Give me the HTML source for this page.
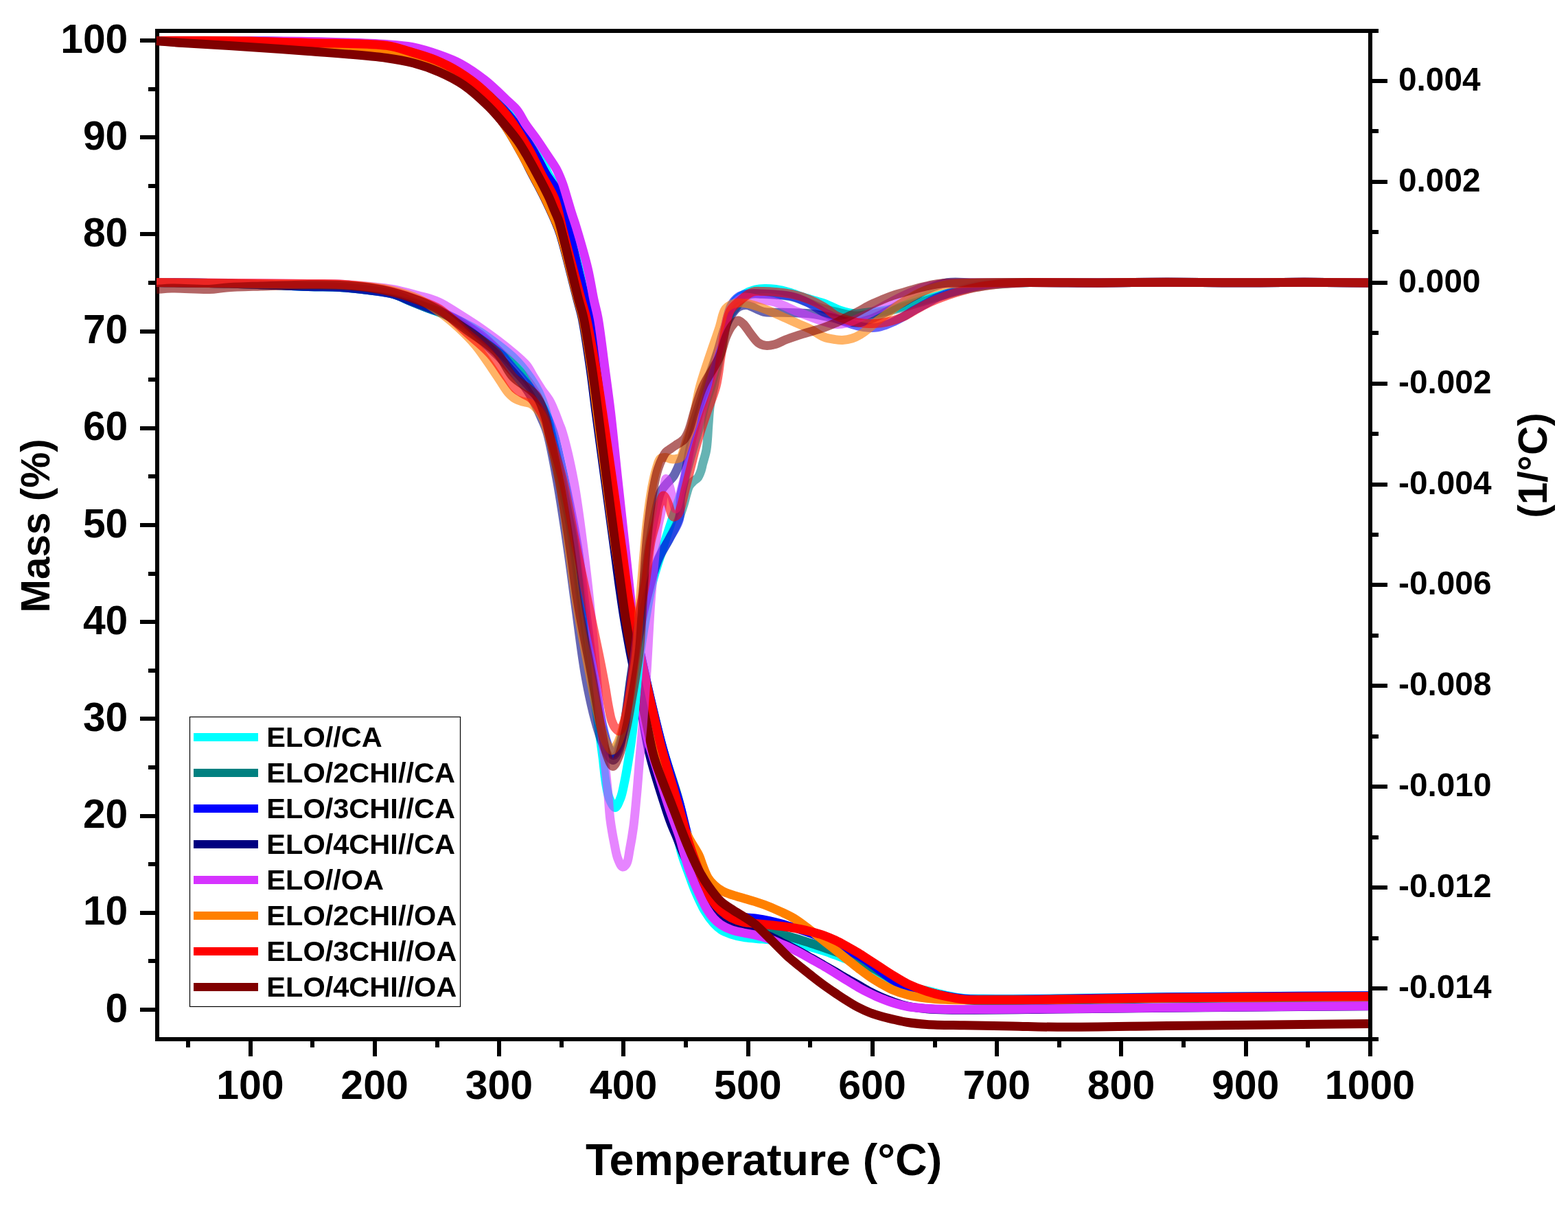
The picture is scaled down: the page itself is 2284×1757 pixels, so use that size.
<!DOCTYPE html>
<html lang="en"><head><meta charset="utf-8"><title>TGA / DTG curves</title>
<style>
html,body{margin:0;padding:0;background:#fff;}
body{width:2284px;height:1757px;overflow:hidden;}
svg{display:block;}
</style></head><body>
<svg xmlns="http://www.w3.org/2000/svg" width="2284" height="1757" viewBox="0 0 2284 1757">
<rect width="2284" height="1757" fill="#fff"/>
<g fill="#000" shape-rendering="crispEdges">
<rect x="226" y="42" width="6" height="1475"/>
<rect x="1993" y="42" width="6" height="1497"/>
<rect x="226" y="42" width="1782" height="6"/>
<rect x="226" y="1511" width="1782" height="6"/>
<rect x="204" y="1468" width="22" height="6"/>
<rect x="204" y="1327" width="22" height="6"/>
<rect x="204" y="1186" width="22" height="6"/>
<rect x="204" y="1044" width="22" height="6"/>
<rect x="204" y="903" width="22" height="6"/>
<rect x="204" y="762" width="22" height="6"/>
<rect x="204" y="621" width="22" height="6"/>
<rect x="204" y="480" width="22" height="6"/>
<rect x="204" y="338" width="22" height="6"/>
<rect x="204" y="197" width="22" height="6"/>
<rect x="204" y="56" width="22" height="6"/>
<rect x="216" y="1397" width="10" height="6"/>
<rect x="216" y="1256" width="10" height="6"/>
<rect x="216" y="1115" width="10" height="6"/>
<rect x="216" y="974" width="10" height="6"/>
<rect x="216" y="833" width="10" height="6"/>
<rect x="216" y="691" width="10" height="6"/>
<rect x="216" y="550" width="10" height="6"/>
<rect x="216" y="409" width="10" height="6"/>
<rect x="216" y="268" width="10" height="6"/>
<rect x="216" y="127" width="10" height="6"/>
<rect x="362" y="1517" width="6" height="22"/>
<rect x="543" y="1517" width="6" height="22"/>
<rect x="724" y="1517" width="6" height="22"/>
<rect x="905" y="1517" width="6" height="22"/>
<rect x="1087" y="1517" width="6" height="22"/>
<rect x="1268" y="1517" width="6" height="22"/>
<rect x="1449" y="1517" width="6" height="22"/>
<rect x="1630" y="1517" width="6" height="22"/>
<rect x="1812" y="1517" width="6" height="22"/>
<rect x="271" y="1517" width="6" height="9"/>
<rect x="452" y="1517" width="6" height="9"/>
<rect x="634" y="1517" width="6" height="9"/>
<rect x="815" y="1517" width="6" height="9"/>
<rect x="996" y="1517" width="6" height="9"/>
<rect x="1177" y="1517" width="6" height="9"/>
<rect x="1359" y="1517" width="6" height="9"/>
<rect x="1540" y="1517" width="6" height="9"/>
<rect x="1721" y="1517" width="6" height="9"/>
<rect x="1902" y="1517" width="6" height="9"/>
<rect x="1999" y="1437" width="22" height="6"/>
<rect x="1999" y="1290" width="22" height="6"/>
<rect x="1999" y="1143" width="22" height="6"/>
<rect x="1999" y="996" width="22" height="6"/>
<rect x="1999" y="849" width="22" height="6"/>
<rect x="1999" y="703" width="22" height="6"/>
<rect x="1999" y="556" width="22" height="6"/>
<rect x="1999" y="409" width="22" height="6"/>
<rect x="1999" y="262" width="22" height="6"/>
<rect x="1999" y="115" width="22" height="6"/>
<rect x="1999" y="1364" width="9" height="6"/>
<rect x="1999" y="1217" width="9" height="6"/>
<rect x="1999" y="1070" width="9" height="6"/>
<rect x="1999" y="923" width="9" height="6"/>
<rect x="1999" y="776" width="9" height="6"/>
<rect x="1999" y="629" width="9" height="6"/>
<rect x="1999" y="482" width="9" height="6"/>
<rect x="1999" y="335" width="9" height="6"/>
<rect x="1999" y="188" width="9" height="6"/>
</g>
<g font-family="'Liberation Sans', Arial, sans-serif" font-weight="bold" fill="#000">
<text x="186.3" y="1488.6" font-size="58.8" text-anchor="end">0</text>
<text x="186.3" y="1347.4" font-size="58.8" text-anchor="end">10</text>
<text x="186.3" y="1206.2" font-size="58.8" text-anchor="end">20</text>
<text x="186.3" y="1065.0" font-size="58.8" text-anchor="end">30</text>
<text x="186.3" y="923.8" font-size="58.8" text-anchor="end">40</text>
<text x="186.3" y="782.6" font-size="58.8" text-anchor="end">50</text>
<text x="186.3" y="641.4" font-size="58.8" text-anchor="end">60</text>
<text x="186.3" y="500.2" font-size="58.8" text-anchor="end">70</text>
<text x="186.3" y="359.0" font-size="58.8" text-anchor="end">80</text>
<text x="186.3" y="217.8" font-size="58.8" text-anchor="end">90</text>
<text x="186.3" y="76.6" font-size="58.8" text-anchor="end">100</text>
<text x="364.4" y="1601" font-size="59" text-anchor="middle">100</text>
<text x="545.6" y="1601" font-size="59" text-anchor="middle">200</text>
<text x="726.9" y="1601" font-size="59" text-anchor="middle">300</text>
<text x="908.1" y="1601" font-size="59" text-anchor="middle">400</text>
<text x="1089.3" y="1601" font-size="59" text-anchor="middle">500</text>
<text x="1270.5" y="1601" font-size="59" text-anchor="middle">600</text>
<text x="1451.8" y="1601" font-size="59" text-anchor="middle">700</text>
<text x="1633.0" y="1601" font-size="59" text-anchor="middle">800</text>
<text x="1814.2" y="1601" font-size="59" text-anchor="middle">900</text>
<text x="1995.5" y="1601" font-size="59" text-anchor="middle">1000</text>
<text x="2037" y="1454" font-size="47.8" text-anchor="start">-0.014</text>
<text x="2037" y="1307" font-size="47.8" text-anchor="start">-0.012</text>
<text x="2037" y="1160" font-size="47.8" text-anchor="start">-0.010</text>
<text x="2037" y="1013" font-size="47.8" text-anchor="start">-0.008</text>
<text x="2037" y="866" font-size="47.8" text-anchor="start">-0.006</text>
<text x="2037" y="720" font-size="47.8" text-anchor="start">-0.004</text>
<text x="2037" y="573" font-size="47.8" text-anchor="start">-0.002</text>
<text x="2037" y="426" font-size="47.8" text-anchor="start">0.000</text>
<text x="2037" y="279" font-size="47.8" text-anchor="start">0.002</text>
<text x="2037" y="132" font-size="47.8" text-anchor="start">0.004</text>
<text x="1112.6" y="1711.6" font-size="64.5" text-anchor="middle">Temperature (°C)</text>
<text transform="translate(72.3,766) rotate(-90)" font-size="58.5" text-anchor="middle">Mass (%)</text>
<text transform="translate(2253,678) rotate(-90)" font-size="58.5" text-anchor="middle">(1/°C)</text>
</g>
<g fill="none" stroke-width="13" stroke-linejoin="round" stroke-linecap="butt">
<path stroke="#00FFFF" d="M228.0,59.4C301.7,59.9 387.4,59.4 449.0,61.0C493.2,62.1 535.5,62.8 563.0,66.0C578.8,67.8 586.0,68.9 600.0,73.0C619.5,78.7 649.5,90.1 668.0,100.0C682.1,107.5 691.6,114.7 703.0,124.0C715.4,134.1 727.3,146.3 739.0,159.0C751.5,172.5 765.5,187.1 775.5,203.0C785.5,218.8 790.9,239.1 799.0,254.3C805.9,267.1 815.1,275.5 820.3,288.6C826.2,303.5 825.9,320.3 830.5,340.0C836.8,367.2 850.6,414.5 856.0,436.6C858.8,448.1 859.9,452.0 862.0,463.0C865.4,480.9 869.4,510.8 873.0,534.0C876.4,556.4 879.7,575.7 883.0,600.0C887.1,629.9 891.0,666.7 895.0,700.0C899.0,733.3 903.1,768.5 907.0,800.0C910.4,828.2 912.3,847.4 917.0,880.0C924.5,931.7 938.7,1025.8 950.0,1080.0C957.9,1117.7 967.1,1149.2 974.0,1175.0C978.8,1192.8 983.2,1206.9 986.8,1220.0C989.6,1230.1 991.2,1238.0 993.9,1246.8C996.6,1255.6 1000.0,1264.3 1003.2,1273.0C1006.4,1281.7 1009.3,1290.3 1013.0,1299.0C1017.0,1308.2 1021.6,1318.8 1026.5,1327.0C1030.7,1334.0 1035.6,1340.6 1040.0,1345.5C1043.4,1349.2 1046.1,1351.8 1050.0,1354.3C1054.3,1357.1 1059.7,1359.2 1065.0,1361.0C1070.6,1362.9 1077.1,1364.3 1083.0,1365.3C1088.7,1366.3 1094.1,1366.6 1100.0,1367.2C1106.6,1367.9 1114.1,1368.3 1120.7,1369.0C1126.9,1369.6 1133.3,1370.4 1138.6,1371.0C1142.8,1371.5 1146.0,1371.8 1150.0,1372.5C1154.7,1373.3 1159.9,1374.3 1165.0,1375.5C1170.5,1376.8 1176.3,1378.4 1182.0,1380.0C1187.9,1381.7 1194.1,1383.5 1200.0,1385.4C1205.8,1387.3 1211.4,1389.5 1217.0,1391.5C1222.4,1393.5 1227.6,1395.5 1233.0,1397.5C1238.6,1399.6 1244.3,1401.6 1250.0,1404.0C1255.8,1406.4 1261.9,1409.3 1267.5,1412.0C1272.9,1414.6 1277.7,1417.2 1283.0,1420.0C1288.6,1423.0 1293.8,1426.6 1300.0,1429.5C1306.8,1432.7 1314.4,1435.7 1322.4,1438.0C1331.0,1440.4 1340.8,1441.3 1350.0,1443.3C1359.2,1445.3 1368.2,1448.1 1377.4,1450.0C1386.5,1451.9 1395.7,1453.7 1404.8,1454.6C1413.9,1455.5 1419.9,1455.2 1432.0,1455.3C1456.1,1455.6 1500.5,1455.2 1540.0,1454.8C1588.1,1454.3 1638.7,1453.2 1700.0,1452.5C1783.0,1451.6 1895.3,1451.2 1993.0,1450.5"/>
<path stroke="#008080" d="M228.0,59.4C263.5,59.5 298.4,59.3 334.5,59.6C372.0,59.9 410.9,60.3 449.0,61.5C487.2,62.7 536.5,62.9 563.4,67.0C578.4,69.3 586.5,72.5 598.0,76.0C609.7,79.5 621.5,83.2 633.0,88.0C644.8,93.0 656.6,98.5 668.0,105.5C680.0,112.9 691.5,121.8 703.0,131.5C715.5,142.1 728.4,153.4 740.0,167.0C752.9,182.0 766.1,202.7 776.0,218.6C783.9,231.4 788.6,242.6 795.6,254.3C802.6,266.0 812.4,275.5 817.9,288.6C824.2,303.5 824.9,320.2 829.5,340.0C835.8,367.2 847.5,414.5 852.6,436.6C855.3,448.1 856.5,451.9 858.5,462.9C861.9,480.8 865.5,511.0 869.2,534.3C872.7,556.7 876.4,575.8 880.0,600.0C884.4,629.8 888.7,666.7 893.0,700.0C897.3,733.3 901.6,768.5 906.0,800.0C909.9,828.2 911.9,847.5 918.0,880.0C927.6,931.8 948.4,1025.8 962.5,1080.0C972.3,1117.8 984.1,1145.5 991.0,1175.2C996.9,1200.6 998.4,1229.2 1003.0,1246.8C1005.8,1257.4 1008.7,1263.5 1012.0,1271.8C1015.4,1280.2 1019.2,1288.9 1023.0,1296.8C1026.6,1304.2 1030.0,1311.4 1034.0,1318.0C1037.7,1324.1 1041.4,1330.4 1046.0,1335.0C1050.2,1339.2 1055.0,1342.5 1060.0,1345.0C1065.0,1347.5 1070.5,1348.8 1076.0,1350.0C1081.8,1351.2 1089.6,1351.4 1094.0,1352.0C1096.5,1352.4 1097.4,1352.6 1100.0,1353.0C1104.8,1353.8 1114.1,1355.0 1120.7,1356.5C1126.9,1357.9 1133.3,1360.0 1138.6,1361.5C1142.8,1362.7 1145.9,1363.5 1150.0,1364.6C1154.7,1365.9 1159.9,1367.4 1165.0,1369.0C1170.5,1370.7 1176.3,1372.6 1182.0,1374.5C1187.9,1376.4 1194.1,1378.5 1200.0,1380.5C1205.8,1382.5 1211.4,1384.5 1217.0,1386.5C1222.4,1388.5 1227.6,1390.5 1233.0,1392.5C1238.6,1394.6 1244.4,1396.5 1250.0,1399.0C1255.9,1401.6 1261.9,1404.9 1267.5,1408.0C1272.9,1410.9 1277.7,1413.8 1283.0,1417.0C1288.6,1420.3 1294.0,1423.6 1300.0,1427.6C1307.0,1432.4 1314.2,1439.8 1322.4,1444.0C1330.8,1448.3 1340.7,1451.7 1350.0,1453.0C1359.0,1454.3 1368.3,1451.4 1377.4,1452.0C1386.6,1452.6 1395.7,1455.5 1404.8,1456.5C1413.9,1457.5 1419.9,1457.5 1432.0,1457.8C1456.1,1458.3 1500.5,1457.7 1540.0,1457.3C1588.1,1456.8 1638.7,1455.5 1700.0,1454.8C1783.0,1453.9 1895.3,1453.5 1993.0,1452.8"/>
<path stroke="#0000FF" d="M228.0,59.4C263.5,59.5 298.4,59.3 334.5,59.6C372.0,59.9 410.9,60.3 449.0,61.5C487.2,62.7 536.5,62.9 563.4,67.0C578.4,69.3 586.5,72.5 598.0,76.0C609.7,79.5 621.5,83.2 633.0,88.0C644.8,93.0 656.6,98.5 668.0,105.5C680.0,112.9 691.5,121.8 703.0,131.5C715.5,142.1 728.4,153.4 740.0,167.0C752.9,182.0 766.1,202.7 776.0,218.6C783.9,231.4 788.6,242.6 795.6,254.3C802.6,266.0 812.4,275.5 817.9,288.6C824.2,303.5 824.9,320.2 829.5,340.0C835.8,367.2 847.5,414.5 852.6,436.6C855.3,448.1 856.5,451.9 858.5,462.9C861.9,480.8 865.5,511.0 869.2,534.3C872.7,556.7 876.4,575.8 880.0,600.0C884.4,629.8 888.7,666.7 893.0,700.0C897.3,733.3 901.6,768.5 906.0,800.0C909.9,828.2 911.9,847.5 918.0,880.0C927.6,931.8 948.4,1025.8 962.5,1080.0C972.3,1117.8 983.8,1149.3 991.0,1175.2C995.9,1192.9 998.4,1207.1 1002.5,1220.0C1005.7,1230.2 1009.0,1238.1 1012.5,1246.8C1015.9,1255.3 1019.6,1264.0 1023.0,1271.8C1026.0,1278.7 1029.0,1284.8 1032.0,1291.0C1034.8,1296.9 1037.0,1302.7 1040.5,1308.0C1044.1,1313.4 1048.8,1318.7 1053.5,1323.0C1057.9,1327.0 1062.1,1330.7 1067.5,1333.0C1073.6,1335.6 1082.6,1336.2 1088.6,1337.0C1093.0,1337.6 1095.7,1337.4 1100.0,1338.0C1105.9,1338.8 1114.1,1340.1 1120.7,1341.5C1126.9,1342.8 1133.3,1344.5 1138.6,1346.0C1142.8,1347.2 1145.9,1348.3 1150.0,1349.5C1154.7,1350.9 1159.9,1352.3 1165.0,1354.0C1170.5,1355.8 1176.3,1357.8 1182.0,1360.0C1187.9,1362.3 1194.1,1364.9 1200.0,1367.5C1205.8,1370.1 1211.4,1372.8 1217.0,1375.5C1222.4,1378.1 1227.6,1380.8 1233.0,1383.5C1238.6,1386.3 1244.4,1388.7 1250.0,1391.9C1255.9,1395.2 1261.9,1399.2 1267.5,1403.0C1272.9,1406.7 1277.7,1410.6 1283.0,1414.5C1288.5,1418.6 1293.8,1423.1 1300.0,1426.9C1306.8,1431.0 1314.4,1435.0 1322.4,1438.0C1331.0,1441.2 1340.8,1442.8 1350.0,1445.0C1359.1,1447.2 1368.2,1449.3 1377.4,1451.0C1386.5,1452.7 1395.7,1454.5 1404.8,1455.3C1413.9,1456.1 1419.9,1455.9 1432.0,1456.0C1456.1,1456.2 1500.5,1455.7 1540.0,1455.3C1588.1,1454.8 1638.7,1453.4 1700.0,1452.7C1783.0,1451.8 1895.3,1451.4 1993.0,1450.8"/>
<path stroke="#000080" d="M228.0,59.5C263.5,60.3 298.4,60.9 334.5,62.0C372.0,63.1 410.9,63.8 449.0,66.0C487.2,68.2 535.6,70.3 563.4,75.0C579.8,77.8 589.1,81.2 601.8,85.0C614.6,88.8 627.8,92.6 640.0,98.0C652.2,103.3 663.9,108.9 675.0,117.0C687.1,125.9 698.7,138.8 709.0,150.0C718.6,160.5 726.8,170.1 735.0,182.0C744.2,195.2 753.8,212.8 761.0,226.0C766.7,236.4 771.2,246.1 775.5,254.3C778.8,260.6 781.5,265.3 784.5,271.0C787.5,276.8 790.2,281.9 793.5,288.6C797.8,297.5 804.0,310.7 808.0,320.0C811.1,327.4 812.8,330.7 815.8,340.0C822.3,360.0 835.3,414.5 841.1,436.6C844.1,448.2 845.7,452.0 848.0,463.0C851.8,480.9 856.1,510.7 859.5,534.0C862.8,556.4 864.8,575.7 868.0,600.0C871.9,629.9 877.0,666.7 881.5,700.0C886.0,733.3 891.3,772.4 895.0,800.0C897.6,819.5 899.4,833.3 901.7,850.0C904.1,866.7 906.4,883.4 909.1,900.0C911.8,916.7 914.9,933.4 918.0,950.0C921.2,966.7 924.8,983.3 928.0,1000.0C931.2,1016.7 933.9,1033.3 937.0,1050.0C940.1,1066.7 942.0,1081.8 946.5,1100.0C952.0,1122.6 963.1,1156.7 969.0,1175.0C972.4,1185.6 974.6,1192.2 977.6,1200.0C980.3,1207.1 983.1,1212.9 986.0,1220.0C989.2,1227.9 992.3,1236.9 996.0,1245.0C999.6,1252.9 1003.7,1260.3 1008.0,1268.0C1012.4,1276.0 1017.3,1284.2 1022.0,1292.0C1026.6,1299.5 1031.2,1307.0 1036.0,1314.0C1040.6,1320.7 1044.8,1328.1 1050.0,1333.4C1054.6,1338.2 1059.5,1342.0 1065.0,1345.0C1070.5,1348.0 1077.1,1349.6 1083.0,1351.5C1088.7,1353.4 1094.1,1354.6 1100.0,1356.5C1106.6,1358.7 1114.1,1361.2 1120.7,1364.0C1127.0,1366.7 1133.3,1370.4 1138.6,1373.0C1142.8,1375.1 1146.0,1376.5 1150.0,1378.5C1154.7,1380.9 1159.9,1383.7 1165.0,1386.5C1170.5,1389.5 1176.3,1392.8 1182.0,1396.0C1187.9,1399.3 1194.1,1402.9 1200.0,1406.3C1205.7,1409.6 1211.4,1412.8 1217.0,1416.0C1222.4,1419.2 1227.6,1422.4 1233.0,1425.5C1238.6,1428.7 1244.3,1431.8 1250.0,1435.0C1255.8,1438.3 1261.8,1442.0 1267.5,1445.0C1272.8,1447.8 1277.7,1450.2 1283.0,1452.5C1288.5,1454.9 1293.9,1457.1 1300.0,1459.2C1306.9,1461.6 1314.5,1464.3 1322.4,1466.0C1331.0,1467.9 1340.8,1468.9 1350.0,1469.7C1359.1,1470.5 1364.4,1470.7 1377.4,1471.0C1408.9,1471.7 1486.0,1470.5 1540.0,1470.0C1593.5,1469.5 1638.7,1468.8 1700.0,1468.2C1783.0,1467.4 1895.3,1466.5 1993.0,1465.7"/>
<path stroke="#D633FF" d="M228.0,59.5C301.7,59.8 387.4,59.3 449.0,60.5C493.4,61.4 535.9,62.6 563.4,64.6C579.0,65.7 587.6,66.1 600.0,68.5C613.1,71.1 627.6,75.6 640.0,80.0C651.1,83.9 660.6,87.4 671.0,93.0C682.6,99.3 694.7,107.7 706.0,116.5C717.8,125.7 731.4,139.4 740.0,147.5C745.4,152.5 748.9,155.0 752.9,160.0C757.7,165.9 761.3,174.4 766.0,181.4C770.9,188.7 776.7,195.7 781.8,202.9C786.8,210.0 791.4,217.2 796.1,224.3C800.8,231.4 806.1,238.4 810.1,245.7C813.9,252.7 816.8,260.0 819.5,267.2C822.1,274.3 823.9,281.5 826.1,288.6C828.3,295.7 830.3,302.9 832.5,310.0C834.7,317.2 836.8,322.5 839.5,331.5C844.0,346.4 851.8,372.8 856.2,391.4C860.0,407.4 862.2,423.6 865.0,436.6C867.1,446.6 869.0,451.9 871.0,462.9C874.3,480.8 877.7,511.0 880.8,534.3C883.8,556.7 886.5,575.8 889.4,600.0C892.9,629.8 896.4,666.7 900.0,700.0C903.6,733.3 907.9,772.4 910.9,800.0C913.0,819.5 914.5,833.3 916.3,850.0C918.1,866.7 919.7,880.5 921.5,900.0C924.1,927.6 925.8,968.6 930.0,1000.0C933.8,1028.2 940.3,1062.3 944.5,1080.0C946.7,1089.0 947.8,1091.2 950.5,1100.0C955.7,1117.0 967.9,1156.7 974.0,1175.0C977.5,1185.6 980.1,1192.1 982.9,1200.0C985.4,1207.0 987.7,1212.8 990.0,1220.0C992.6,1228.3 994.8,1238.1 997.5,1247.0C1000.2,1255.8 1002.8,1264.5 1006.0,1273.0C1009.2,1281.5 1012.6,1289.6 1016.5,1298.0C1020.6,1306.9 1025.5,1317.7 1030.0,1325.0C1033.3,1330.4 1036.4,1334.7 1040.0,1338.5C1043.2,1341.9 1046.1,1344.6 1050.0,1347.1C1054.3,1350.0 1059.7,1352.5 1065.0,1354.5C1070.6,1356.6 1077.1,1357.7 1083.0,1359.0C1088.7,1360.2 1094.1,1360.7 1100.0,1362.1C1106.6,1363.6 1114.1,1365.7 1120.7,1368.0C1127.0,1370.2 1133.3,1373.3 1138.6,1375.5C1142.8,1377.3 1146.0,1378.4 1150.0,1380.3C1154.7,1382.5 1159.9,1385.3 1165.0,1388.0C1170.5,1391.0 1176.3,1394.3 1182.0,1397.5C1187.9,1400.8 1194.1,1404.2 1200.0,1407.6C1205.8,1411.0 1211.4,1414.6 1217.0,1418.0C1222.4,1421.4 1227.6,1424.7 1233.0,1428.0C1238.6,1431.4 1244.2,1435.0 1250.0,1438.3C1255.7,1441.5 1261.8,1444.7 1267.5,1447.5C1272.8,1450.1 1277.7,1452.3 1283.0,1454.5C1288.5,1456.7 1293.9,1458.8 1300.0,1460.7C1306.9,1462.8 1314.5,1465.1 1322.4,1466.5C1331.1,1468.1 1340.8,1468.6 1350.0,1469.3C1359.1,1470.0 1364.4,1470.2 1377.4,1470.5C1408.9,1471.1 1486.0,1470.2 1540.0,1469.8C1593.5,1469.4 1638.7,1468.6 1700.0,1468.0C1783.0,1467.2 1895.3,1466.3 1993.0,1465.5"/>
<path stroke="#FF8000" d="M228.0,59.5C263.5,60.3 298.4,60.9 334.5,62.0C372.0,63.1 410.9,63.8 449.0,66.0C487.2,68.2 535.6,70.3 563.4,75.0C579.8,77.8 589.1,81.2 601.8,85.0C614.6,88.8 627.8,92.6 640.0,98.0C652.2,103.3 663.9,108.9 675.0,117.0C687.1,125.9 698.7,138.8 709.0,150.0C718.6,160.5 726.8,170.1 735.0,182.0C744.2,195.2 753.6,212.9 761.0,226.0C766.8,236.4 771.6,246.1 776.0,254.3C779.4,260.6 782.0,265.3 785.0,271.0C788.0,276.8 790.7,281.9 794.0,288.6C798.3,297.5 804.5,310.7 808.5,320.0C811.7,327.4 813.4,330.7 816.4,340.0C823.0,360.0 835.9,414.5 841.8,436.6C844.9,448.2 846.6,452.0 849.0,463.0C852.9,480.9 857.5,510.7 861.0,534.0C864.4,556.4 866.5,575.7 869.7,600.0C873.7,629.9 878.5,666.7 883.0,700.0C887.5,733.3 892.0,768.6 896.8,800.0C901.1,828.2 905.1,851.9 910.0,880.0C915.4,911.5 921.7,946.7 928.0,980.0C934.3,1013.4 938.8,1047.4 948.0,1080.0C957.2,1112.4 972.6,1149.3 983.0,1175.0C990.3,1192.9 996.4,1207.1 1003.0,1220.0C1008.2,1230.3 1014.9,1239.2 1018.5,1247.0C1021.1,1252.6 1021.9,1256.9 1024.0,1262.0C1026.2,1267.5 1028.4,1274.1 1031.4,1278.9C1034.0,1283.1 1036.9,1286.4 1040.4,1289.6C1044.0,1293.0 1048.4,1296.2 1052.9,1298.6C1057.3,1301.0 1062.1,1302.2 1067.1,1303.9C1072.7,1305.8 1079.0,1307.5 1085.0,1309.3C1091.0,1311.1 1097.0,1312.7 1102.9,1314.6C1108.9,1316.5 1114.8,1318.5 1120.7,1320.9C1126.7,1323.3 1132.7,1326.1 1138.6,1328.9C1144.6,1331.7 1150.6,1334.4 1156.4,1337.9C1162.5,1341.6 1168.4,1346.1 1174.3,1350.5C1180.3,1355.0 1187.4,1360.8 1192.1,1364.5C1195.3,1367.0 1197.2,1368.5 1200.0,1370.7C1203.1,1373.2 1206.2,1375.5 1210.0,1378.5C1215.1,1382.5 1222.5,1388.5 1227.9,1392.8C1232.3,1396.3 1236.2,1399.4 1240.0,1402.5C1243.5,1405.3 1246.2,1407.5 1250.0,1410.5C1255.0,1414.3 1261.8,1419.6 1267.5,1423.5C1272.7,1427.0 1277.7,1430.0 1283.0,1433.0C1288.5,1436.1 1293.8,1439.4 1300.0,1442.0C1306.8,1444.9 1314.5,1447.5 1322.4,1449.5C1331.0,1451.7 1340.8,1453.2 1350.0,1454.3C1359.1,1455.4 1368.3,1455.9 1377.4,1456.3C1386.5,1456.7 1392.2,1456.7 1404.8,1456.8C1432.8,1457.0 1493.0,1456.6 1540.0,1456.2C1591.1,1455.7 1638.7,1454.6 1700.0,1454.0C1783.0,1453.1 1895.3,1452.7 1993.0,1452.0"/>
<path stroke="#FF0000" d="M228.0,59.4C263.5,59.4 298.4,58.9 334.5,59.4C372.0,59.9 410.8,61.2 449.0,62.4C487.1,63.6 536.4,62.5 563.4,66.4C578.5,68.6 586.6,72.1 598.2,75.5C610.0,79.0 621.9,82.2 633.4,87.0C645.2,91.9 656.7,97.5 668.0,104.5C680.0,111.9 691.8,120.5 703.0,130.5C715.1,141.3 727.0,153.5 737.9,167.3C749.9,182.5 762.1,202.8 771.1,218.6C778.4,231.4 782.8,242.4 788.9,254.3C795.1,266.2 802.8,276.8 808.0,290.0C813.8,305.0 815.9,320.6 821.0,340.0C828.1,367.0 840.6,414.5 846.6,436.6C849.8,448.1 851.4,451.9 854.0,462.9C858.2,480.8 863.4,511.0 867.4,534.3C871.2,556.6 873.9,575.8 877.5,600.0C882.0,629.8 887.2,666.7 892.0,700.0C896.7,733.3 901.6,768.5 906.0,800.0C910.0,828.2 911.5,847.5 917.4,880.0C926.7,931.8 953.3,1048.0 961.0,1080.0C963.5,1090.2 963.8,1091.2 966.3,1100.0C971.1,1117.1 983.2,1156.7 988.5,1175.0C991.6,1185.6 993.4,1191.9 995.6,1200.0C997.7,1207.6 999.2,1214.5 1001.5,1222.0C1004.0,1230.1 1007.0,1238.7 1010.0,1247.0C1013.0,1255.4 1016.3,1264.2 1019.5,1272.0C1022.3,1279.1 1025.1,1285.4 1028.0,1292.0C1030.9,1298.4 1033.3,1305.2 1037.0,1311.0C1040.6,1316.7 1045.2,1322.1 1050.0,1326.5C1054.6,1330.7 1059.6,1334.2 1065.0,1337.0C1070.6,1339.9 1077.0,1342.1 1083.0,1343.5C1088.7,1344.8 1094.1,1344.9 1100.0,1345.5C1106.6,1346.2 1114.1,1346.8 1120.7,1347.5C1126.9,1348.1 1133.3,1348.9 1138.6,1349.5C1142.8,1350.0 1145.9,1350.4 1150.0,1351.0C1154.7,1351.7 1159.9,1352.5 1165.0,1353.5C1170.5,1354.6 1176.3,1356.0 1182.0,1357.5C1187.9,1359.1 1194.1,1360.8 1200.0,1362.9C1205.8,1365.0 1211.5,1367.4 1217.0,1370.0C1222.5,1372.6 1227.6,1375.5 1233.0,1378.5C1238.6,1381.6 1244.3,1384.7 1250.0,1388.1C1255.8,1391.7 1261.8,1395.8 1267.5,1399.5C1272.8,1402.9 1277.7,1406.1 1283.0,1409.5C1288.5,1413.1 1293.9,1416.8 1300.0,1420.5C1306.9,1424.7 1314.4,1429.6 1322.4,1433.5C1331.0,1437.6 1340.7,1441.3 1350.0,1444.3C1359.1,1447.3 1368.2,1449.5 1377.4,1451.5C1386.5,1453.5 1395.6,1455.2 1404.8,1456.1C1413.9,1457.0 1420.1,1456.7 1432.3,1456.8C1456.4,1457.0 1500.6,1456.5 1540.0,1456.1C1588.1,1455.6 1638.7,1454.4 1700.0,1453.7C1783.0,1452.8 1895.3,1452.4 1993.0,1451.8"/>
<path stroke="#800000" d="M228.0,59.5C240.7,60.5 251.5,61.5 266.0,62.5C285.4,63.8 308.4,64.9 334.0,66.5C367.3,68.6 410.8,71.5 449.0,74.5C487.1,77.5 535.1,80.7 563.0,84.5C579.4,86.8 589.0,88.4 601.8,91.8C614.7,95.2 627.7,99.6 640.0,105.0C652.2,110.3 663.8,116.1 675.2,123.9C687.7,132.5 700.6,144.4 711.6,155.2C721.7,165.2 731.2,176.7 739.0,186.0C745.2,193.4 750.3,199.7 755.0,206.5C759.3,212.7 762.7,218.6 766.5,225.0C770.4,231.7 775.0,240.3 778.0,245.7C779.9,249.2 780.9,251.0 782.7,254.3C785.2,258.9 788.6,265.3 791.5,271.0C794.4,276.8 797.6,282.8 800.2,288.6C802.7,294.1 804.8,299.7 807.0,305.0C809.2,310.1 811.5,314.6 813.4,320.0C815.6,326.1 816.6,330.8 819.0,340.0C824.3,360.1 837.1,414.5 842.8,436.6C845.8,448.2 847.6,452.0 850.0,463.0C853.9,480.9 858.4,510.7 862.0,534.0C865.4,556.4 867.9,575.7 871.1,600.0C875.1,629.9 879.6,666.7 884.0,700.0C888.4,733.3 893.6,772.4 897.3,800.0C899.9,819.5 901.8,833.3 904.1,850.0C906.4,866.7 908.5,883.4 911.1,900.0C913.8,916.7 916.8,933.4 920.0,950.0C923.2,966.7 927.0,983.3 930.5,1000.0C934.0,1016.7 937.4,1033.3 941.0,1050.0C944.6,1066.7 947.9,1085.5 951.9,1100.0C955.0,1111.4 958.0,1119.0 962.0,1130.0C966.9,1143.5 974.6,1162.2 979.5,1175.0C983.2,1184.5 985.9,1191.9 989.0,1200.0C991.9,1207.6 994.5,1214.5 997.5,1222.0C1000.8,1230.1 1004.4,1238.9 1008.0,1247.0C1011.5,1254.9 1015.0,1262.6 1019.0,1270.0C1023.0,1277.3 1027.1,1284.0 1032.0,1291.0C1037.3,1298.5 1043.6,1307.3 1050.0,1313.3C1055.7,1318.6 1061.9,1322.0 1068.0,1326.0C1073.9,1329.9 1080.4,1333.4 1086.0,1337.0C1091.0,1340.3 1095.3,1342.8 1100.0,1346.7C1105.6,1351.3 1111.4,1357.5 1117.0,1363.0C1122.7,1368.6 1128.4,1374.5 1134.0,1380.0C1139.4,1385.4 1144.6,1390.9 1150.0,1395.7C1155.0,1400.2 1159.8,1403.8 1165.0,1408.0C1170.5,1412.4 1176.2,1417.0 1182.0,1421.5C1187.9,1426.1 1194.0,1430.9 1200.0,1435.2C1205.7,1439.3 1211.4,1443.2 1217.0,1447.0C1222.4,1450.6 1227.5,1454.1 1233.0,1457.5C1238.5,1461.0 1244.2,1464.6 1250.0,1467.6C1255.7,1470.6 1261.8,1473.3 1267.5,1475.5C1272.8,1477.5 1277.7,1479.0 1283.0,1480.5C1288.5,1482.1 1293.9,1483.4 1300.0,1484.8C1306.9,1486.4 1314.5,1488.3 1322.4,1489.5C1331.1,1490.9 1339.2,1491.7 1350.0,1492.4C1365.1,1493.4 1385.5,1493.4 1404.8,1493.8C1426.4,1494.2 1450.8,1494.5 1473.5,1494.9C1495.8,1495.3 1513.0,1496.2 1540.0,1496.3C1581.8,1496.5 1647.5,1495.1 1700.0,1494.5C1750.8,1494.0 1800.6,1493.5 1850.0,1493.0C1898.2,1492.5 1945.3,1491.9 1993.0,1491.4"/>
<path stroke="#00FFFF" d="M228.0,411.5C263.3,412.0 298.0,412.0 334.0,413.0C371.6,414.0 419.3,416.6 449.0,417.5C467.8,418.1 479.8,417.6 495.0,418.5C510.1,419.4 526.2,421.2 540.0,423.0C551.9,424.6 562.9,425.6 573.0,428.5C582.1,431.1 589.7,435.6 598.0,439.0C606.3,442.4 614.7,445.7 623.0,449.0C631.3,452.2 639.5,455.1 648.0,458.5C656.9,462.1 666.3,465.7 675.0,470.0C683.6,474.2 691.8,478.8 700.0,484.0C708.5,489.4 717.0,495.9 725.0,502.0C732.7,507.9 740.3,513.6 747.0,520.0C753.6,526.3 759.5,533.0 765.0,540.0C770.5,547.0 775.7,554.6 780.0,562.0C784.0,568.9 787.2,575.8 790.0,583.0C792.8,590.2 794.9,597.4 797.0,605.0C799.2,613.0 800.6,619.5 803.0,630.0C807.1,647.8 813.9,676.1 819.0,702.0C824.9,732.1 831.2,768.9 836.0,800.0C840.3,828.0 843.0,851.4 847.0,880.0C851.6,913.1 857.5,955.0 862.0,987.0C865.7,1013.1 869.1,1036.9 872.0,1058.0C874.3,1074.9 876.3,1089.5 878.1,1103.8C879.7,1116.4 880.5,1128.8 882.3,1139.5C883.8,1148.3 884.9,1156.7 887.6,1163.3C889.8,1168.6 893.3,1176.6 896.0,1176.5C898.7,1176.4 901.6,1168.5 903.7,1163.3C906.4,1156.7 907.8,1147.9 909.6,1139.5C911.6,1130.2 913.4,1119.3 915.0,1109.8C916.4,1101.2 917.6,1094.0 918.8,1085.0C920.3,1074.3 921.8,1062.7 923.1,1050.0C924.7,1034.8 925.9,1016.5 927.5,1000.0C929.1,983.7 930.4,967.8 932.5,951.4C934.7,934.5 937.8,917.0 940.7,900.0C943.6,883.2 946.0,866.6 950.0,850.0C954.1,833.2 960.1,815.7 965.0,800.0C969.4,785.9 973.5,773.4 978.0,760.0C982.5,746.3 988.0,731.7 992.0,718.6C995.5,706.9 998.1,695.8 1001.0,685.0C1003.7,674.9 1006.2,665.6 1009.0,655.7C1011.9,645.6 1015.1,635.6 1018.0,625.0C1021.1,613.7 1023.8,600.9 1027.0,590.0C1029.8,580.4 1033.0,573.1 1036.0,563.0C1039.7,550.4 1043.6,534.1 1047.0,520.0C1050.3,506.4 1052.2,493.2 1056.0,480.0C1059.9,466.6 1063.7,448.9 1070.0,440.0C1074.3,434.0 1079.8,431.1 1085.0,428.0C1089.8,425.2 1095.0,423.3 1100.0,422.0C1104.7,420.8 1109.2,420.5 1114.0,420.4C1119.2,420.3 1124.4,420.7 1130.0,421.5C1136.3,422.4 1143.4,424.1 1150.0,426.0C1156.7,427.9 1163.3,430.8 1170.0,433.0C1176.6,435.2 1184.5,437.4 1190.0,439.0C1193.9,440.1 1196.0,440.4 1200.0,441.8C1206.5,444.1 1216.8,449.9 1224.7,452.5C1231.7,454.8 1238.1,456.7 1245.0,457.1C1251.9,457.5 1259.4,455.2 1266.0,454.6C1271.8,454.0 1276.0,454.3 1282.4,453.4C1291.5,452.0 1304.5,448.9 1315.4,446.0C1326.5,443.1 1337.5,439.3 1348.4,436.1C1359.0,433.0 1369.6,429.7 1380.0,427.0C1390.1,424.4 1400.0,422.0 1410.0,420.0C1420.0,418.0 1430.0,416.3 1440.0,415.0C1450.0,413.8 1460.0,413.1 1470.0,412.5C1480.0,411.9 1487.1,411.7 1500.0,411.5C1523.6,411.2 1566.7,412.0 1600.0,412.0C1633.3,412.0 1666.7,411.2 1700.0,411.2C1733.3,411.2 1766.7,411.8 1800.0,411.8C1833.3,411.8 1867.3,411.3 1900.0,411.3C1931.6,411.3 1962.0,411.8 1993.0,412.0"/>
<path stroke="#008080" stroke-opacity="0.6" d="M228.0,411.5C263.3,412.0 298.0,412.0 334.0,413.0C371.6,414.0 419.3,416.6 449.0,417.5C467.8,418.1 479.8,417.6 495.0,418.5C510.1,419.4 526.2,421.2 540.0,423.0C551.9,424.6 562.9,425.7 573.0,428.5C582.1,431.0 589.7,435.2 598.0,438.5C606.3,441.7 614.7,444.9 623.0,448.0C631.3,451.1 639.6,453.3 648.0,457.0C657.0,460.9 666.4,465.6 675.0,471.0C683.7,476.5 691.7,483.5 700.0,490.0C708.4,496.5 717.0,503.2 725.0,510.0C732.7,516.5 740.2,523.2 747.0,530.0C753.5,536.5 759.6,543.4 765.0,550.0C769.9,556.0 774.2,561.7 778.0,568.0C781.8,574.3 785.0,581.1 788.0,588.0C791.0,595.1 793.6,602.8 796.0,610.0C798.3,616.8 799.8,621.2 802.0,630.0C806.2,646.5 811.5,676.2 817.0,702.0C823.4,732.2 832.5,768.9 838.0,800.0C842.9,827.9 845.0,851.4 849.0,880.0C853.6,913.1 859.1,955.0 864.0,987.0C868.0,1013.1 871.4,1039.5 876.0,1058.0C879.1,1070.3 882.4,1080.9 886.0,1088.0C888.2,1092.4 890.7,1098.0 893.0,1098.0C895.3,1098.0 897.8,1092.5 900.0,1088.0C903.5,1080.9 906.3,1070.2 909.0,1058.0C913.1,1039.5 915.5,1009.3 919.0,987.0C922.2,966.9 925.4,948.3 929.0,930.0C932.4,912.7 935.6,897.4 940.0,880.0C944.8,860.8 950.3,837.0 957.0,820.0C962.3,806.5 969.9,795.1 975.0,785.0C978.8,777.4 982.2,771.2 985.0,765.0C987.4,759.7 989.2,755.0 991.0,750.0C992.8,745.0 994.5,740.0 996.0,735.0C997.5,730.0 998.6,724.7 1000.0,720.0C1001.3,715.8 1002.1,711.3 1004.0,708.0C1005.6,705.2 1007.9,703.0 1010.0,701.0C1012.0,699.1 1014.6,698.2 1016.4,696.0C1018.4,693.4 1019.8,689.4 1021.0,686.0C1022.2,682.6 1022.6,679.6 1023.6,675.7C1025.0,670.4 1027.4,663.1 1028.6,657.0C1029.7,651.2 1030.0,645.9 1030.5,640.0C1031.1,633.6 1031.2,627.3 1031.8,620.0C1032.5,611.3 1032.9,600.9 1034.3,591.4C1035.7,581.9 1038.1,572.4 1040.0,562.9C1041.9,553.4 1043.8,543.8 1045.7,534.3C1047.6,524.8 1049.5,515.2 1051.4,505.7C1053.3,496.2 1054.7,485.6 1057.1,477.1C1059.1,470.0 1061.1,463.2 1064.0,458.0C1066.3,453.9 1069.2,451.7 1072.0,448.0C1075.2,443.8 1077.9,437.3 1082.0,434.0C1085.7,431.0 1090.4,429.4 1095.0,428.5C1099.7,427.5 1104.6,428.4 1110.0,428.5C1116.2,428.7 1123.1,428.9 1130.0,429.5C1137.6,430.2 1146.1,430.7 1153.7,432.5C1161.1,434.2 1167.6,437.2 1175.0,440.0C1183.0,443.0 1191.6,447.3 1200.0,450.0C1208.2,452.6 1216.9,454.3 1224.7,456.0C1231.8,457.6 1238.2,459.7 1245.0,460.0C1251.9,460.3 1259.4,458.8 1266.0,458.0C1271.8,457.3 1276.0,456.7 1282.4,455.5C1291.5,453.8 1304.5,450.9 1315.4,448.0C1326.5,445.1 1337.5,441.3 1348.4,438.0C1359.0,434.8 1369.6,431.4 1380.0,428.5C1390.1,425.7 1400.0,423.2 1410.0,421.0C1420.0,418.8 1430.0,416.8 1440.0,415.5C1450.0,414.2 1460.0,413.7 1470.0,413.0C1480.0,412.3 1487.1,411.8 1500.0,411.5C1523.6,411.0 1566.7,412.0 1600.0,412.0C1633.3,412.0 1666.7,411.2 1700.0,411.2C1733.3,411.2 1766.7,411.8 1800.0,411.8C1833.3,411.8 1867.3,411.3 1900.0,411.3C1931.6,411.3 1962.0,411.8 1993.0,412.0"/>
<path stroke="#0000FF" stroke-opacity="0.6" d="M228.0,411.5C263.3,412.0 298.0,412.0 334.0,413.0C371.6,414.0 419.3,416.6 449.0,417.5C467.8,418.1 479.8,417.6 495.0,418.5C510.1,419.4 526.2,421.2 540.0,423.0C551.9,424.6 562.9,425.8 573.0,428.5C582.0,430.9 589.7,434.9 598.0,438.0C606.3,441.1 614.7,443.8 623.0,447.0C631.4,450.2 639.6,453.2 648.0,457.0C656.9,461.1 666.3,465.9 675.0,471.0C683.6,476.0 691.9,481.1 700.0,487.3C708.6,493.9 717.2,501.9 725.0,510.0C732.9,518.2 740.3,528.6 747.0,536.3C752.4,542.5 757.2,547.6 762.0,553.0C766.5,558.1 771.0,562.7 775.0,568.0C779.0,573.4 782.5,578.9 786.0,585.0C789.9,591.8 793.7,599.5 797.0,607.0C800.3,614.5 802.9,620.1 806.0,630.0C811.4,647.2 817.4,676.1 823.0,702.0C829.5,732.1 836.9,768.9 841.9,800.0C846.4,827.9 848.3,851.4 852.0,880.0C856.3,913.1 861.2,955.0 866.0,987.0C869.9,1013.1 873.8,1039.1 878.0,1058.0C880.9,1070.9 883.7,1082.4 887.0,1090.0C889.0,1094.6 891.2,1100.4 893.5,1100.5C895.9,1100.6 898.7,1094.7 901.0,1090.0C904.6,1082.4 907.3,1070.9 910.0,1058.0C914.0,1039.1 916.5,1009.3 920.0,987.0C923.2,966.9 926.6,948.4 930.0,930.0C933.2,912.8 935.7,897.7 940.0,880.0C945.0,859.5 951.8,831.5 958.9,814.3C963.9,802.3 969.9,794.7 975.0,785.0C980.0,775.6 986.6,767.0 989.3,757.1C992.0,747.2 990.1,735.9 991.4,725.7C992.7,715.9 995.3,706.6 997.1,697.1C998.9,687.6 1000.3,678.1 1002.1,668.6C1003.9,659.1 1005.6,649.6 1007.9,640.0C1010.2,630.1 1013.2,620.0 1016.0,610.0C1018.9,600.0 1021.8,590.4 1025.0,580.0C1028.4,568.8 1032.3,556.7 1036.0,545.0C1039.7,533.3 1043.7,521.3 1047.0,510.0C1050.0,499.6 1052.1,490.4 1055.0,480.0C1058.1,468.8 1060.6,453.3 1065.0,445.0C1067.9,439.6 1070.9,435.8 1075.0,433.0C1079.2,430.2 1084.6,428.9 1090.0,428.0C1096.1,427.0 1103.3,427.8 1110.0,428.0C1116.7,428.2 1123.1,428.4 1130.0,429.0C1137.6,429.7 1146.1,430.1 1153.7,432.0C1161.1,433.8 1167.8,436.5 1175.0,440.0C1183.2,443.9 1192.4,450.9 1200.0,455.0C1206.0,458.2 1211.0,460.5 1216.5,463.0C1222.0,465.5 1227.4,468.0 1233.0,470.0C1238.4,471.9 1244.0,473.6 1249.5,474.8C1255.0,476.0 1261.4,477.0 1266.0,477.3C1269.2,477.5 1271.5,477.5 1274.2,477.3C1276.9,477.1 1279.2,476.8 1282.4,476.0C1287.0,474.8 1293.5,472.3 1298.9,469.9C1304.5,467.5 1310.0,464.6 1315.4,461.6C1321.0,458.5 1326.4,454.9 1331.9,451.7C1337.4,448.6 1342.9,445.7 1348.4,442.7C1353.9,439.7 1359.4,436.1 1364.9,433.6C1370.0,431.2 1374.6,429.6 1380.0,427.8C1386.2,425.7 1392.9,423.9 1400.0,422.0C1407.8,419.9 1416.6,417.5 1425.0,416.0C1433.3,414.5 1440.2,413.7 1450.0,413.0C1463.8,412.0 1480.5,411.7 1500.0,411.5C1527.6,411.2 1566.7,412.0 1600.0,412.0C1633.3,412.0 1666.7,411.2 1700.0,411.2C1733.3,411.2 1766.7,411.8 1800.0,411.8C1833.3,411.8 1867.3,411.3 1900.0,411.3C1931.6,411.3 1962.0,411.8 1993.0,412.0"/>
<path stroke="#000080" stroke-opacity="0.6" d="M228.0,411.5C263.3,412.0 298.0,412.0 334.0,413.0C371.6,414.0 419.3,416.6 449.0,417.5C467.8,418.1 479.8,417.6 495.0,418.5C510.1,419.4 526.2,421.2 540.0,423.0C551.9,424.6 562.9,425.6 573.0,428.5C582.1,431.1 589.7,435.6 598.0,439.0C606.3,442.4 614.6,445.8 623.0,449.0C631.3,452.2 639.7,454.1 648.0,458.0C657.0,462.3 666.4,467.9 675.0,474.0C683.8,480.2 691.7,487.7 700.0,495.0C708.4,502.4 717.1,510.1 725.0,518.0C732.7,525.8 740.4,534.5 747.0,542.0C752.6,548.4 757.6,554.2 762.0,560.0C765.8,565.1 769.0,569.9 772.0,575.0C774.9,579.9 777.3,584.6 780.0,590.0C783.0,596.1 786.2,603.3 789.0,610.0C791.8,616.6 794.3,621.1 797.0,630.0C801.9,646.4 807.1,676.1 811.8,702.0C817.2,732.1 822.6,769.0 827.1,800.0C831.2,828.0 834.0,851.4 838.0,880.0C842.6,913.1 847.3,955.1 853.2,987.0C858.0,1013.2 863.5,1038.3 869.3,1058.0C873.6,1072.5 878.1,1086.2 883.0,1095.0C886.1,1100.6 889.9,1107.6 892.9,1107.5C895.8,1107.4 898.7,1100.5 901.0,1095.0C904.7,1086.2 906.4,1072.4 909.0,1058.0C912.5,1038.2 915.9,1009.4 919.0,987.0C921.8,967.0 924.4,948.4 927.0,930.0C929.4,912.8 931.4,898.6 934.0,880.0C937.3,856.5 941.1,824.1 945.0,800.0C948.2,779.9 951.5,760.4 955.0,745.0C957.6,733.6 959.4,723.0 962.9,715.7C965.3,710.7 968.4,707.9 971.4,704.3C974.3,700.8 978.0,698.1 980.7,694.3C983.6,690.1 985.5,685.2 987.9,680.0C990.6,673.9 993.5,666.7 996.0,660.0C998.5,653.4 1000.6,647.4 1003.0,640.0C1005.9,631.0 1008.8,620.0 1012.0,610.0C1015.2,600.0 1018.5,590.4 1022.0,580.0C1025.8,568.8 1030.0,556.7 1034.0,545.0C1038.0,533.3 1042.4,521.3 1046.0,510.0C1049.3,499.6 1051.4,489.1 1055.0,480.0C1058.2,471.9 1062.0,463.9 1066.0,458.0C1069.1,453.4 1072.1,449.2 1076.0,447.0C1079.5,445.0 1083.1,444.1 1087.7,444.5C1094.5,445.1 1104.9,452.8 1112.4,454.4C1118.4,455.7 1123.1,455.0 1129.0,455.2C1135.6,455.4 1142.5,455.3 1150.0,455.5C1158.8,455.8 1168.7,455.7 1178.4,456.8C1188.7,458.0 1200.4,460.4 1210.0,462.5C1218.0,464.2 1225.0,466.7 1232.0,468.0C1238.3,469.1 1244.0,470.5 1250.0,470.0C1256.0,469.5 1261.8,467.3 1268.0,465.0C1275.1,462.4 1282.2,459.0 1290.0,455.0C1299.3,450.3 1310.0,443.5 1320.0,438.0C1330.0,432.5 1339.8,426.4 1350.0,422.0C1359.8,417.7 1369.1,413.5 1380.0,411.7C1392.2,409.7 1404.4,412.0 1420.0,412.0C1442.1,412.0 1471.8,411.5 1500.0,411.5C1531.5,411.5 1566.7,412.0 1600.0,412.0C1633.3,412.0 1666.7,411.2 1700.0,411.2C1733.3,411.2 1766.7,411.8 1800.0,411.8C1833.3,411.8 1867.3,411.3 1900.0,411.3C1931.6,411.3 1962.0,411.8 1993.0,412.0"/>
<path stroke="#D633FF" stroke-opacity="0.6" d="M228.0,411.5C263.3,411.8 297.9,412.2 334.0,412.5C371.6,412.8 419.3,413.2 449.0,413.5C467.8,413.7 479.8,413.3 495.0,414.0C510.1,414.7 526.3,416.1 540.0,417.5C551.6,418.7 561.0,419.5 572.0,421.5C583.9,423.7 599.2,428.0 609.0,430.5C615.4,432.2 619.8,433.1 625.0,434.8C630.1,436.5 635.6,438.5 640.0,440.5C643.7,442.2 646.0,443.6 650.0,445.9C656.5,449.7 666.7,456.2 675.0,461.5C683.4,466.8 691.7,472.1 700.0,477.8C708.4,483.6 717.0,489.9 725.0,496.0C732.6,501.8 741.0,508.5 747.0,513.5C751.3,517.1 754.5,519.8 758.0,523.0C761.3,526.1 764.4,528.6 767.4,532.5C771.2,537.3 774.5,544.3 778.1,550.2C781.8,556.2 785.6,562.4 789.4,568.1C793.1,573.6 797.6,578.5 800.7,584.0C803.7,589.2 805.7,594.5 808.0,600.0C810.3,605.5 812.5,611.7 814.5,617.0C816.2,621.6 817.5,623.8 819.3,630.0C823.6,644.2 831.1,676.0 836.0,702.0C841.6,732.0 846.1,769.0 850.1,800.0C853.7,828.0 856.6,854.2 859.3,880.0C861.8,904.1 863.9,926.7 866.0,950.0C868.1,973.3 869.8,996.7 872.0,1020.0C874.2,1043.3 876.7,1066.9 879.0,1090.0C881.3,1112.7 884.0,1138.5 885.8,1157.4C887.1,1171.2 887.3,1181.2 888.8,1193.1C890.3,1205.0 892.7,1218.3 894.8,1228.8C896.5,1237.2 897.6,1245.3 900.1,1251.4C902.0,1256.1 904.4,1262.5 906.9,1263.0C908.7,1263.3 911.1,1261.0 912.6,1258.6C915.3,1254.3 915.9,1244.9 917.4,1237.0C919.3,1227.4 921.1,1216.7 922.7,1205.0C924.6,1190.7 926.0,1173.7 927.5,1157.4C929.1,1140.1 930.4,1120.9 931.9,1103.8C933.3,1088.1 934.6,1075.4 936.0,1058.6C937.8,1037.5 939.6,1013.3 941.4,987.0C943.6,954.9 945.5,910.5 947.7,880.0C949.4,857.1 951.2,839.1 953.0,820.0C954.6,802.6 955.9,783.4 958.0,770.0C959.4,760.8 961.6,754.8 962.9,747.0C964.2,739.1 964.8,731.1 966.0,723.0C967.2,714.6 968.0,697.8 970.0,697.5C971.4,697.3 973.5,703.9 975.0,708.0C977.0,713.5 978.3,722.0 980.0,728.0C981.4,732.9 982.8,741.4 984.3,741.4C985.8,741.4 987.7,732.5 989.0,728.0C990.3,723.7 990.7,720.2 992.0,715.0C994.0,707.0 997.3,695.0 1000.0,685.0C1002.7,675.0 1005.3,665.0 1008.0,655.0C1010.7,645.0 1013.3,635.4 1016.0,625.0C1018.9,613.8 1022.0,600.9 1025.0,590.0C1027.7,580.4 1030.1,573.1 1033.0,563.0C1036.6,550.3 1041.3,534.1 1045.0,520.0C1048.6,506.5 1051.9,491.8 1055.0,480.0C1057.5,470.7 1058.8,462.1 1062.0,455.0C1064.7,449.1 1067.9,443.7 1072.0,440.0C1075.7,436.6 1080.1,433.8 1085.0,433.0C1090.6,432.1 1097.4,435.1 1104.2,436.2C1111.9,437.5 1120.3,437.8 1129.0,440.3C1139.4,443.3 1151.0,449.9 1162.0,454.3C1173.0,458.7 1185.1,463.6 1195.0,466.7C1202.9,469.2 1209.8,471.8 1216.5,472.3C1222.3,472.8 1227.6,472.0 1233.0,470.7C1238.6,469.3 1244.0,466.4 1249.5,464.1C1255.0,461.8 1260.5,459.3 1266.0,456.7C1271.5,454.1 1276.9,451.3 1282.4,448.4C1287.9,445.5 1293.4,442.3 1298.9,439.4C1304.4,436.5 1309.9,433.7 1315.4,431.1C1320.9,428.5 1326.4,425.9 1331.9,423.7C1337.4,421.5 1342.8,419.4 1348.4,417.9C1353.8,416.4 1359.5,415.4 1364.9,414.6C1370.0,413.8 1373.8,413.4 1380.0,413.0C1390.1,412.3 1404.4,412.2 1420.0,412.0C1442.1,411.7 1471.8,411.5 1500.0,411.5C1531.5,411.5 1566.7,412.0 1600.0,412.0C1633.3,412.0 1666.7,411.2 1700.0,411.2C1733.3,411.2 1766.7,411.8 1800.0,411.8C1833.3,411.8 1867.3,411.3 1900.0,411.3C1931.6,411.3 1962.0,411.8 1993.0,412.0"/>
<path stroke="#FF8000" stroke-opacity="0.6" d="M228.0,411.5C263.3,412.0 297.9,412.6 334.0,413.0C371.6,413.4 419.3,413.7 449.0,414.0C467.8,414.2 479.8,413.8 495.0,414.5C510.1,415.2 526.2,416.3 540.0,418.0C551.9,419.4 561.9,420.8 573.0,423.5C584.8,426.4 597.4,429.5 609.0,435.0C621.1,440.7 633.7,449.9 644.0,457.5C653.0,464.1 660.1,470.3 667.9,477.5C676.0,485.1 684.0,492.8 691.7,502.0C700.4,512.3 710.1,527.2 716.8,537.0C721.6,543.9 724.8,549.1 728.7,555.0C732.6,560.8 736.2,567.4 740.2,572.0C743.5,575.7 746.8,578.8 750.5,581.0C753.8,583.0 757.3,583.8 761.0,585.0C765.0,586.3 769.8,586.0 773.9,588.5C779.2,591.7 784.8,598.6 788.7,605.0C792.8,611.7 794.4,618.2 797.5,628.2C802.8,645.4 810.0,674.0 815.0,700.0C820.8,730.4 824.6,768.5 829.0,800.0C832.9,828.2 835.4,851.5 840.0,880.0C845.4,913.1 853.9,956.1 860.0,987.0C864.7,1010.8 868.5,1032.6 873.0,1050.0C876.2,1062.6 879.0,1074.3 883.0,1082.0C885.6,1087.0 888.7,1093.2 891.5,1093.2C894.3,1093.2 897.5,1086.7 900.0,1082.0C903.3,1075.7 905.5,1066.8 908.0,1058.0C910.9,1047.5 913.4,1036.8 916.0,1023.0C919.7,1003.3 924.3,975.0 927.0,951.0C929.6,927.3 930.2,903.2 932.0,880.0C933.7,857.6 935.6,834.9 937.4,814.0C939.1,795.1 940.4,777.5 942.5,760.0C944.5,743.2 946.9,725.0 949.5,711.0C951.5,700.3 953.5,690.8 956.0,683.0C957.8,677.1 959.0,670.5 962.0,668.0C964.1,666.2 967.4,666.3 970.0,666.4C972.5,666.5 974.7,668.2 977.1,668.6C979.5,669.0 981.9,669.0 984.3,668.6C986.7,668.2 989.5,668.1 991.4,666.4C993.8,664.2 994.5,659.1 996.0,655.0C997.7,650.4 998.9,645.3 1000.7,640.0C1002.8,633.8 1005.3,628.5 1007.7,620.0C1011.6,606.0 1014.0,583.8 1019.6,563.0C1026.6,537.1 1041.2,497.6 1048.0,477.0C1051.8,465.4 1052.0,455.9 1056.9,449.9C1060.7,445.3 1066.2,442.9 1071.6,441.6C1077.2,440.3 1083.9,441.5 1089.9,442.6C1096.1,443.7 1102.1,446.0 1108.2,448.1C1114.3,450.2 1120.4,452.8 1126.5,455.4C1132.6,458.0 1138.7,460.9 1144.8,463.6C1150.9,466.4 1157.1,469.1 1163.2,471.9C1169.3,474.6 1175.5,477.0 1181.5,480.1C1187.7,483.3 1193.8,488.5 1200.0,490.9C1205.5,493.1 1211.6,493.9 1216.5,494.6C1220.4,495.2 1223.4,495.6 1227.2,495.4C1231.6,495.2 1236.8,494.4 1241.2,493.0C1245.6,491.6 1249.6,489.6 1253.6,487.2C1257.9,484.7 1261.9,481.3 1266.0,478.1C1270.2,474.8 1274.1,470.7 1278.3,467.4C1282.4,464.2 1286.3,461.6 1290.7,458.3C1295.8,454.4 1301.6,449.4 1307.2,445.5C1312.6,441.7 1318.2,438.4 1323.7,435.2C1329.1,432.0 1334.5,428.7 1340.1,426.2C1345.5,423.8 1350.6,422.3 1356.6,420.5C1363.7,418.4 1371.1,416.0 1380.0,414.6C1391.5,412.8 1404.4,412.8 1420.0,412.3C1442.1,411.6 1471.8,411.6 1500.0,411.5C1531.5,411.4 1566.7,412.0 1600.0,412.0C1633.3,412.0 1666.7,411.2 1700.0,411.2C1733.3,411.2 1766.7,411.8 1800.0,411.8C1833.3,411.8 1867.3,411.3 1900.0,411.3C1931.6,411.3 1962.0,411.8 1993.0,412.0"/>
<path stroke="#FF0000" stroke-opacity="0.6" d="M228.0,411.5C263.3,411.8 297.9,412.2 334.0,412.5C371.6,412.8 419.3,413.2 449.0,413.5C467.8,413.7 479.8,413.1 495.0,414.0C510.1,414.9 526.2,416.9 540.0,419.0C551.9,420.8 561.8,422.6 573.0,425.5C584.8,428.5 597.5,432.8 609.0,437.0C619.8,441.0 629.5,443.5 640.0,450.0C653.1,458.2 667.3,473.6 680.0,485.0C691.9,495.6 704.1,504.9 714.0,516.0C723.5,526.6 731.7,540.8 738.5,550.0C743.2,556.4 746.2,561.9 750.5,566.0C754.0,569.3 757.7,571.2 761.5,573.5C765.2,575.8 769.5,577.1 773.0,580.0C776.8,583.1 779.8,587.3 783.0,592.0C786.9,597.7 791.1,605.2 794.0,612.0C796.7,618.5 797.4,623.4 800.0,632.0C804.7,647.9 813.8,675.0 820.0,700.0C827.4,730.0 833.5,768.5 840.0,800.0C845.8,828.2 851.5,854.1 857.0,880.0C862.2,904.5 867.7,929.9 872.0,951.4C875.6,969.1 878.8,985.7 881.4,1000.0C883.4,1011.2 884.7,1021.0 886.5,1030.0C888.0,1037.4 889.0,1044.4 891.0,1050.0C892.5,1054.3 894.4,1058.4 896.5,1061.0C898.1,1063.0 900.0,1065.5 901.7,1065.2C903.9,1064.8 906.2,1059.3 908.0,1055.0C910.6,1048.7 912.2,1039.4 914.0,1030.0C916.3,1018.3 918.1,1004.1 920.0,990.0C922.1,974.3 924.0,956.7 926.0,940.0C928.0,923.3 929.5,905.7 932.0,890.0C934.3,875.9 937.5,864.7 940.0,850.0C943.0,832.1 944.8,806.5 948.0,790.0C950.3,778.2 953.6,769.4 955.7,760.0C957.5,751.7 957.9,743.2 960.0,736.4C961.7,730.9 964.1,722.2 966.4,722.1C968.5,722.0 970.9,728.7 973.0,733.0C975.7,738.5 977.4,751.6 980.7,752.9C982.6,753.7 985.3,751.7 987.0,750.0C989.1,747.8 989.9,744.3 991.4,740.0C993.8,733.0 996.2,720.9 998.6,711.4C1001.0,701.9 1003.3,692.4 1005.7,682.9C1008.1,673.4 1010.4,663.4 1012.9,654.3C1015.2,645.8 1017.3,638.5 1020.0,630.0C1023.0,620.5 1026.4,610.5 1030.0,600.0C1034.0,588.3 1039.7,575.9 1043.0,563.0C1046.5,549.4 1047.7,534.3 1050.0,520.0C1052.3,505.7 1054.3,489.3 1057.0,477.0C1059.1,467.5 1060.2,458.5 1064.0,452.0C1067.1,446.6 1071.4,443.6 1076.2,439.5C1081.8,434.7 1089.4,427.7 1096.0,425.4C1101.4,423.5 1106.9,424.6 1112.4,424.6C1117.9,424.6 1122.9,424.8 1129.0,425.4C1136.4,426.1 1145.5,426.9 1153.7,428.7C1162.0,430.5 1170.6,433.1 1178.4,436.2C1186.0,439.2 1193.4,443.0 1200.0,447.0C1206.0,450.7 1210.8,455.9 1216.5,459.1C1221.8,462.1 1227.4,463.9 1233.0,465.7C1238.4,467.5 1244.0,468.9 1249.5,469.9C1255.0,470.9 1260.5,471.4 1266.0,471.5C1271.5,471.6 1277.0,471.4 1282.4,470.7C1287.9,470.0 1293.5,468.9 1298.9,467.4C1304.5,465.9 1310.0,464.0 1315.4,461.6C1321.0,459.1 1326.4,455.5 1331.9,452.5C1337.4,449.5 1342.8,446.3 1348.4,443.5C1353.8,440.8 1359.5,438.3 1364.9,436.1C1370.0,434.0 1374.6,432.2 1380.0,430.3C1386.2,428.1 1393.3,425.9 1400.0,424.0C1406.6,422.1 1412.6,420.5 1420.0,419.0C1429.0,417.2 1440.0,415.6 1450.0,414.5C1460.0,413.4 1471.0,413.0 1480.0,412.5C1487.3,412.1 1490.8,411.7 1500.0,411.5C1520.6,411.0 1566.7,412.0 1600.0,412.0C1633.3,412.0 1666.7,411.2 1700.0,411.2C1733.3,411.2 1766.7,411.8 1800.0,411.8C1833.3,411.8 1867.3,411.3 1900.0,411.3C1931.6,411.3 1962.0,411.8 1993.0,412.0"/>
<path stroke="#800000" stroke-opacity="0.6" d="M228.0,421.5C235.3,421.0 241.0,420.2 250.0,420.0C264.2,419.7 290.2,422.0 305.0,421.5C315.0,421.1 320.2,419.7 330.0,419.0C343.8,418.0 361.9,417.6 380.0,417.0C401.4,416.3 429.2,415.2 450.0,415.0C466.6,414.9 480.0,414.8 495.0,415.5C510.0,416.2 526.2,417.5 540.0,419.5C551.9,421.2 561.8,423.1 573.0,426.0C584.8,429.0 597.6,433.0 609.0,437.5C619.9,441.8 629.3,445.7 640.0,452.0C652.8,459.6 666.4,471.0 680.0,481.0C694.2,491.4 711.8,501.2 723.3,513.3C733.6,524.1 738.3,539.7 747.1,549.0C754.5,556.8 764.6,561.3 771.0,566.9C775.8,571.1 779.4,573.5 782.9,578.8C787.7,586.1 792.0,599.4 794.8,608.6C797.1,616.2 797.5,620.8 799.5,630.0C803.2,646.9 810.1,676.1 815.0,702.0C820.7,732.1 826.1,769.0 830.8,800.0C835.0,828.0 837.3,851.5 842.0,880.0C847.5,913.1 856.6,955.0 862.5,987.0C867.3,1013.1 871.0,1037.5 875.0,1058.0C878.1,1073.9 880.1,1089.4 884.0,1100.0C886.6,1107.0 889.9,1116.4 892.9,1116.4C895.9,1116.4 899.2,1106.9 902.0,1100.0C906.2,1089.4 910.0,1071.4 913.0,1058.0C915.7,1045.9 917.1,1036.8 919.5,1023.0C922.9,1003.3 928.2,975.0 931.0,951.0C933.7,927.3 934.5,903.2 936.0,880.0C937.5,857.6 938.4,834.9 940.0,814.0C941.4,795.1 942.9,777.5 945.0,760.0C947.0,743.2 949.4,725.0 952.0,711.0C954.0,700.3 956.0,691.0 958.5,683.0C960.5,676.8 962.8,671.4 965.0,667.0C966.7,663.7 967.9,660.9 970.0,658.6C972.0,656.5 974.7,655.3 977.1,653.6C979.5,651.9 982.0,650.1 984.3,648.6C986.3,647.3 988.1,646.4 990.0,645.0C992.1,643.5 994.5,642.3 996.4,640.0C998.9,637.0 1000.9,633.0 1003.0,628.0C1006.2,620.4 1008.7,608.4 1012.0,598.0C1015.6,586.7 1018.6,575.0 1024.0,563.0C1030.2,549.1 1042.1,533.3 1048.0,520.0C1052.7,509.3 1054.5,498.2 1058.0,490.0C1060.6,484.0 1062.8,479.0 1066.0,475.0C1068.7,471.6 1072.0,467.2 1075.0,467.0C1077.6,466.8 1080.0,469.5 1082.6,471.9C1086.2,475.3 1089.9,481.8 1093.6,486.5C1097.2,491.0 1100.5,496.5 1104.5,499.3C1107.9,501.7 1111.5,503.0 1115.5,503.4C1120.0,503.9 1125.4,502.6 1130.2,501.2C1135.2,499.8 1139.6,496.8 1144.8,494.8C1150.5,492.5 1157.1,490.4 1163.2,488.4C1169.3,486.4 1175.4,484.7 1181.5,482.9C1187.6,481.1 1193.9,479.5 1199.8,477.4C1205.5,475.4 1211.0,473.2 1216.5,470.7C1222.1,468.2 1227.5,465.2 1233.0,462.4C1238.5,459.7 1244.0,457.1 1249.5,454.2C1255.0,451.3 1260.5,447.9 1266.0,445.1C1271.4,442.4 1276.9,440.0 1282.4,437.7C1287.9,435.4 1293.4,433.0 1298.9,431.1C1304.4,429.2 1309.9,427.8 1315.4,426.2C1320.9,424.5 1326.4,422.7 1331.9,421.2C1337.4,419.7 1342.9,418.3 1348.4,417.1C1353.9,415.9 1359.5,414.6 1364.9,413.8C1370.0,413.0 1373.8,412.5 1380.0,412.2C1390.1,411.6 1404.4,412.1 1420.0,412.0C1442.1,411.9 1471.8,411.5 1500.0,411.5C1531.5,411.5 1566.7,412.0 1600.0,412.0C1633.3,412.0 1666.7,411.2 1700.0,411.2C1733.3,411.2 1766.7,411.8 1800.0,411.8C1833.3,411.8 1867.3,411.3 1900.0,411.3C1931.6,411.3 1962.0,411.8 1993.0,412.0"/>
</g>
<rect x="276.5" y="1044.5" width="394" height="422" fill="#fff" stroke="#000" stroke-width="1.2"/>
<g font-family="'Liberation Sans', Arial, sans-serif" font-weight="bold" font-size="41.55" fill="#000">
<rect x="282" y="1068" width="94" height="12" fill="#00FFFF" shape-rendering="crispEdges"/>
<text x="388.3" y="1087.6">ELO//CA</text>
<rect x="282" y="1120" width="94" height="12" fill="#008080" shape-rendering="crispEdges"/>
<text x="388.3" y="1139.6">ELO/2CHI//CA</text>
<rect x="282" y="1172" width="94" height="12" fill="#0000FF" shape-rendering="crispEdges"/>
<text x="388.3" y="1191.6">ELO/3CHI//CA</text>
<rect x="282" y="1224" width="94" height="12" fill="#000080" shape-rendering="crispEdges"/>
<text x="388.3" y="1243.6">ELO/4CHI//CA</text>
<rect x="282" y="1276" width="94" height="12" fill="#D633FF" shape-rendering="crispEdges"/>
<text x="388.3" y="1295.6">ELO//OA</text>
<rect x="282" y="1328" width="94" height="12" fill="#FF8000" shape-rendering="crispEdges"/>
<text x="388.3" y="1347.6">ELO/2CHI//OA</text>
<rect x="282" y="1380" width="94" height="12" fill="#FF0000" shape-rendering="crispEdges"/>
<text x="388.3" y="1399.6">ELO/3CHI//OA</text>
<rect x="282" y="1432" width="94" height="12" fill="#800000" shape-rendering="crispEdges"/>
<text x="388.3" y="1451.6">ELO/4CHI//OA</text>
</g>
</svg>
</body></html>
